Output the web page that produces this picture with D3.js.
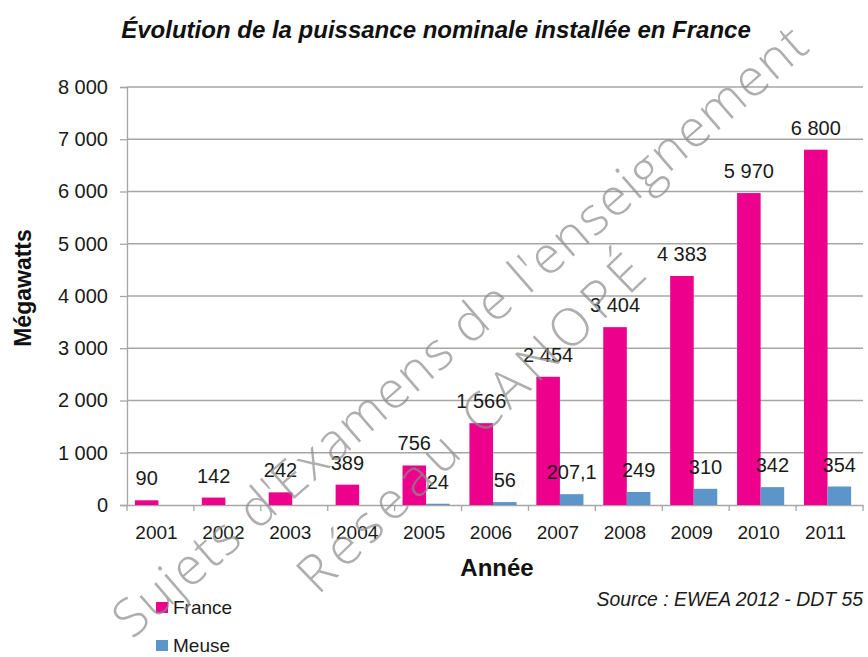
<!DOCTYPE html>
<html>
<head>
<meta charset="utf-8">
<script src="https://cdn.jsdelivr.net/npm/d3@7"></script>
<style>
html,body{margin:0;padding:0;background:#fff;}
svg{display:block;font-family:"Liberation Sans",Arial,sans-serif;}
</style>
</head>
<body>
<svg id="chart" width="868" height="657"></svg>
<script>
const years = ["2001","2002","2003","2004","2005","2006","2007","2008","2009","2010","2011"];
const france = [90,142,242,389,756,1566,2454,3404,4383,5970,6800];
const meuse = [null,null,null,null,24,56,207.1,249,310,342,354];
const seriesNames = ["France","Meuse"];
const seriesColors = ["#EC008C","#5B95C9"];
const yTicks = [0,1000,2000,3000,4000,5000,6000,7000,8000];

const svg = d3.select("#chart");
const m = {left:127, right:863, top:87, bottom:505};

const fr = d3.formatLocale({decimal:",", thousands:" ", grouping:[3], currency:["","€"]});
const fmtInt = fr.format(",.0f");
const fmtVal = v => Number.isInteger(v) ? fmtInt(v) : fr.format(",.1f")(v);

const x = d3.scaleBand().domain(years).range([m.left, m.right]).paddingInner(0).paddingOuter(0);
const xs = d3.scaleBand().domain(seriesNames).range([0, x.bandwidth()]).paddingInner(0).paddingOuter(0.42);
const y = d3.scaleLinear().domain([0,8000]).range([m.bottom, m.top]);

// gridlines
svg.append("g").selectAll("line").data(yTicks.filter(d=>d>0)).join("line")
  .attr("x1",m.left).attr("x2",m.right)
  .attr("y1",d=>y(d)).attr("y2",d=>y(d))
  .attr("stroke","#a6a6a6").attr("stroke-width",1.3);

// y axis
const yAxis = d3.axisLeft(y).tickValues(yTicks).tickFormat(fmtInt).tickSize(7).tickPadding(12);
const gy = svg.append("g").attr("transform",`translate(${m.left},0)`).call(yAxis);
gy.select(".domain").attr("stroke","#a6a6a6").attr("stroke-width",1.3);
gy.selectAll(".tick line").attr("stroke","#a6a6a6").attr("stroke-width",1.3);
gy.selectAll(".tick text").attr("font-size",20).attr("fill","#1a1a1a")
  .style("font-family","'Liberation Sans',Arial,sans-serif");

// x axis
const xAxis = d3.axisBottom(x).tickSize(0).tickPadding(0);
const gx = svg.append("g").attr("transform",`translate(0,${m.bottom})`).call(xAxis);
gx.select(".domain").attr("stroke","#a6a6a6").attr("stroke-width",1.3);
gx.selectAll(".tick text").attr("font-size",19).attr("fill","#1a1a1a").attr("dy",0).attr("y",34).attr("dx",-4)
  .style("font-family","'Liberation Sans',Arial,sans-serif");
// boundary ticks
svg.append("g").selectAll("line").data(years.concat(["end"])).join("line")
  .attr("x1",(d,i)=> i<years.length ? x(d) : m.right)
  .attr("x2",(d,i)=> i<years.length ? x(d) : m.right)
  .attr("y1",m.bottom).attr("y2",m.bottom+6)
  .attr("stroke","#a6a6a6").attr("stroke-width",1.3);

// bars
const data = years.map((yr,i)=>({year:yr, vals:[france[i], meuse[i]]}));
const groups = svg.append("g").selectAll("g").data(data).join("g")
  .attr("transform",d=>`translate(${x(d.year)},0)`);
groups.selectAll("rect").data(d=>d.vals.map((v,k)=>({k,v})).filter(e=>e.v!=null)).join("rect")
  .attr("x",e=>xs(seriesNames[e.k]) - 2)
  .attr("width",xs.bandwidth())
  .attr("y",e=>y(e.v))
  .attr("height",e=>m.bottom - y(e.v))
  .attr("fill",e=>seriesColors[e.k]);
groups.selectAll("text").data(d=>d.vals.map((v,k)=>({k,v})).filter(e=>e.v!=null)).join("text")
  .attr("x",e=>xs(seriesNames[e.k]) - 2 + xs.bandwidth()/2)
  .attr("y",e=>y(e.v) - 15)
  .attr("text-anchor","middle")
  .attr("font-size",20).attr("fill","#1a1a1a")
  .text(e=>fmtVal(e.v));

// title
svg.append("text").attr("x",436).attr("y",38).attr("text-anchor","middle")
  .attr("font-size",24).attr("font-weight","bold").attr("font-style","italic").attr("fill","#111")
  .text("Évolution de la puissance nominale installée en France");

// axis titles
svg.append("text").attr("transform","translate(31,288) rotate(-90)").attr("text-anchor","middle")
  .attr("font-size",23).attr("font-weight","bold").attr("fill","#111").text("Mégawatts");
svg.append("text").attr("x",497).attr("y",576).attr("text-anchor","middle")
  .attr("font-size",24).attr("font-weight","bold").attr("fill","#111").text("Année");

// source
svg.append("text").attr("x",863).attr("y",606).attr("text-anchor","end")
  .attr("font-size",19.4).attr("font-style","italic").attr("fill","#1a1a1a")
  .text("Source : EWEA 2012 - DDT 55");

// legend
const leg = svg.append("g").selectAll("g").data(seriesNames).join("g")
  .attr("transform",(d,i)=>`translate(156,${602 + i*38})`);
leg.append("rect").attr("width",12).attr("height",11).attr("fill",(d,i)=>seriesColors[i]);
leg.append("text").attr("x",17).attr("y",12).attr("font-size",19).attr("fill","#1a1a1a").text(d=>d);

// watermark (on top, thin grey)
const wm = svg.append("g").attr("fill","#8c8c8c").attr("fill-opacity",0.7)
  .style("font-family","'Open Sans',sans-serif").style("font-weight","300");
wm.append("text").attr("transform","translate(132,640) rotate(-41)")
  .attr("font-size",52).attr("textLength",900).attr("lengthAdjust","spacing")
  .text("Sujets d'Examens de l'enseignement");
wm.append("text").attr("transform","translate(318,596) rotate(-44)")
  .attr("font-size",52).attr("textLength",460).attr("lengthAdjust","spacing")
  .text("Réseau CANOPÉ");
</script>
</body>
</html>
